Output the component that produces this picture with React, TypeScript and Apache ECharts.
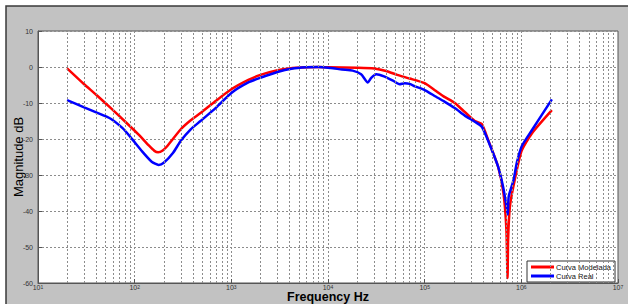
import React, { useEffect, useRef } from "react";
import * as echarts from "echarts";

const redFreq = [20, 30, 40, 56, 80, 110, 140, 160, 175, 195, 220, 300, 380, 480, 700, 1000, 1500, 2000, 3000, 4000, 6000, 8000, 10000, 20000, 30000, 40000, 52000, 70000, 100000, 130000, 160000, 205000, 260000, 330000, 390000, 457000, 575000, 653000, 700000, 720000, 730000, 760000, 830000, 1000000, 1290000, 2070000];
const redDb = [-0.4, -4.8, -7.7, -11.3, -15.2, -18.8, -21.8, -23.3, -23.7, -23.2, -21.8, -17.3, -14.8, -12.8, -9.3, -6.2, -3.6, -2.2, -0.9, -0.4, -0.1, 0, -0.05, -0.2, -0.4, -1.1, -2.2, -3.2, -4.5, -6.6, -8.3, -10, -12.5, -15, -15.8, -20.5, -27.7, -35, -45, -58.6, -48, -39, -33, -23.5, -18.4, -12];

const blueFreq = [20, 30, 40, 56, 75, 90, 120, 150, 177, 200, 250, 300, 380, 480, 700, 1000, 1500, 2000, 3000, 4200, 6000, 8000, 10700, 14000, 18000, 22000, 25800, 28000, 31600, 38000, 47000, 55000, 62000, 70000, 80000, 100000, 130000, 160000, 205000, 260000, 330000, 390000, 457000, 575000, 650000, 700000, 724000, 740000, 830000, 900000, 1010000, 1290000, 2070000];
const blueDb = [-9.2, -11.2, -12.6, -14.3, -17, -19.4, -23.5, -26.3, -27.2, -26.6, -23.8, -20.5, -17.3, -15, -11.2, -7.2, -4.3, -3.0, -1.4, -0.5, -0.1, 0, -0.3, -0.7, -1.0, -2.0, -4.3, -3.0, -2.0, -2.6, -3.8, -4.8, -4.5, -4.7, -5.4, -6.4, -8.2, -9.6, -11.4, -13.5, -15.2, -16.6, -20.7, -27.7, -33.5, -38.5, -41, -36, -31.4, -26.5, -22, -17.5, -9.0];

const seriesNames = ["Curva Modelada", "Curva Real"];
const yTicks = { min: -60, max: 10, interval: 10 };

const minorGrid: number[] = [];
for (let d = 1; d <= 6; d++) {
  for (let m = 2; m <= 9; m++) minorGrid.push(m * Math.pow(10, d));
}

const FONT = "Liberation Sans, Arial, sans-serif";

export default function App() {
  const ref = useRef<HTMLDivElement>(null);
  useEffect(() => {
    if (!ref.current) return;
    const chart = echarts.init(ref.current, undefined, { renderer: "svg" });
    const gridLine = { color: "#8c8c8c", type: [2, 2] as any, width: 1 };
    chart.setOption({
      animation: false,
      backgroundColor: "#ffffff",
      textStyle: { fontFamily: FONT },
      graphic: [
        {
          type: "rect",
          z: -10,
          silent: true,
          shape: { x: 6, y: 6, width: 640, height: 320 },
          style: { fill: "#c2c2c2", stroke: "#3a3a3a", lineWidth: 1.5 },
        },
      ],
      grid: {
        left: 38,
        top: 31,
        right: 10,
        bottom: 21,
        outerBoundsMode: "none",
        containLabel: false,
        show: true,
        backgroundColor: "#ffffff",
        borderColor: "#555555",
        borderWidth: 1,
      },
      legend: {
        data: seriesNames,
        orient: "vertical",
        left: 527,
        top: 261,
        itemWidth: 23,
        itemHeight: 3,
        itemGap: 1,
        icon: "rect",
        padding: [2, 4, 2, 4],
        backgroundColor: "#ffffff",
        borderColor: "#333333",
        borderWidth: 1,
        borderRadius: 0,
        textStyle: { fontSize: 7.5, color: "#111", fontFamily: FONT, padding: [0, 0, 0, -3] },
      },
      xAxis: {
        type: "log",
        logBase: 10,
        min: 10,
        max: 1e7,
        splitNumber: 6,
        name: "Frequency Hz",
        nameLocation: "middle",
        nameGap: 8,
        nameMoveOverlap: false,
        nameTextStyle: { fontSize: 12.5, fontWeight: "bold", color: "#000", fontFamily: FONT, verticalAlign: "top", lineHeight: 12.5 },
        axisLine: { show: true, onZero: false, lineStyle: { color: "#555" } },
        axisTick: { show: true, inside: true, length: 4, lineStyle: { color: "#555" } },
        splitLine: { show: true, lineStyle: gridLine },
        axisLabel: {
          margin: 1,
          color: "#333",
          formatter: (v: number) => `{b|10}{s|${Math.round(Math.log10(v))}}`,
          rich: {
            b: { fontSize: 7, lineHeight: 6, color: "#333", fontFamily: FONT },
            s: { fontSize: 5, lineHeight: 6, color: "#333", fontFamily: FONT, verticalAlign: "top", padding: [0, 0, 3, 0] },
          },
        },
      },
      yAxis: {
        type: "value",
        min: yTicks.min,
        max: yTicks.max,
        interval: yTicks.interval,
        name: "Magnitude dB",
        nameLocation: "middle",
        nameGap: 13,
        nameMoveOverlap: false,
        nameRotate: 90,
        nameTextStyle: { fontSize: 13, color: "#000", fontFamily: FONT },
        axisLine: { show: true, onZero: false, lineStyle: { color: "#555" } },
        axisTick: { show: true, inside: true, length: 4, lineStyle: { color: "#555" } },
        splitLine: { show: true, lineStyle: gridLine },
        axisLabel: { fontSize: 7, color: "#333", margin: 5, fontFamily: FONT },
      },
      series: [
        {
          name: "minor-grid",
          type: "line",
          data: [],
          z: 1,
          silent: true,
          markLine: {
            silent: true,
            symbol: ["none", "none"],
            label: { show: false },
            lineStyle: gridLine,
            data: minorGrid.map((f) => ({ xAxis: f })),
          },
        },
        {
          name: seriesNames[0],
          type: "line",
          z: 3,
          showSymbol: false,
          smooth: 0.2,
          color: "#ff0000",
          lineStyle: { color: "#ff0000", width: 2.5 },
          data: redFreq.map((f, i) => [f, redDb[i]]),
        },
        {
          name: seriesNames[1],
          type: "line",
          z: 4,
          showSymbol: false,
          smooth: 0.2,
          color: "#0000ff",
          lineStyle: { color: "#0000ff", width: 2.5 },
          data: blueFreq.map((f, i) => [f, blueDb[i]]),
        },
      ],
    });
    return () => chart.dispose();
  }, []);
  return (
    <div
      ref={ref}
      style={{ position: "fixed", left: 0, top: 0, width: 628, height: 304 }}
    />
  );
}
